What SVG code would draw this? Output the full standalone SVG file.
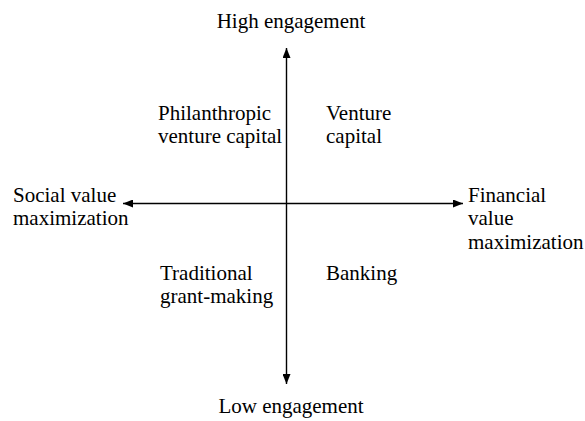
<svg xmlns="http://www.w3.org/2000/svg" width="585" height="421" viewBox="0 0 585 421" font-family="'Liberation Serif', 'Times New Roman', serif" font-size="21">
<style>
.ax{stroke:#000;stroke-width:1.4;fill:none}
</style>
<defs>
<marker id="ah" viewBox="0 0 10 8" refX="10" refY="4" markerWidth="10" markerHeight="8" markerUnits="userSpaceOnUse" orient="auto-start-reverse">
<path d="M0,0 L10,4 L0,8 Z" fill="#000"/>
</marker>
</defs>
<rect width="585" height="421" fill="#fff"/>
<g id="connectors">
<line class="ax" x1="286.5" y1="48" x2="286.5" y2="384" marker-start="url(#ah)" marker-end="url(#ah)"/>
<line class="ax" x1="123" y1="203.5" x2="463" y2="203.5" marker-start="url(#ah)" marker-end="url(#ah)"/>
</g>
<g id="high"><text x="291" y="28" text-anchor="middle">High engagement</text></g>
<g id="low"><text x="291" y="413" text-anchor="middle">Low engagement</text></g>
<g id="social"><text x="13" y="202">Social value</text><text x="13" y="225">maximization</text></g>
<g id="financial"><text x="468" y="202">Financial</text><text x="468" y="225">value</text><text x="468" y="249">maximization</text></g>
<g id="pvc"><text x="158" y="120">Philanthropic</text><text x="158" y="143">venture capital</text></g>
<g id="vc"><text x="326" y="120">Venture</text><text x="326" y="143">capital</text></g>
<g id="grant"><text x="160" y="280">Traditional</text><text x="160" y="303">grant-making</text></g>
<g id="banking"><text x="326" y="280">Banking</text></g>
</svg>
